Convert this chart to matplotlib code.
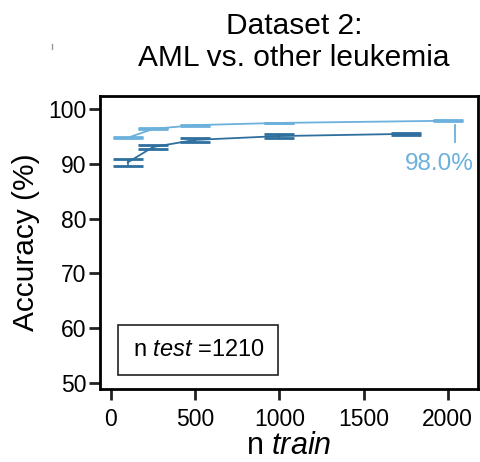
import matplotlib.pyplot as plt
from matplotlib.lines import Line2D

plt.rcParams['font.family'] = ['Liberation Sans', 'DejaVu Sans']
plt.rcParams['mathtext.fontset'] = 'custom'
plt.rcParams['mathtext.rm'] = 'Liberation Sans'
plt.rcParams['mathtext.it'] = 'Liberation Sans:italic'

# light series (upper curve)
light_x = [100, 250, 500, 1000, 2000]
light_y = [94.8, 96.4, 97.1, 97.5, 97.9]
light_err = [0.1, 0.1, 0.1, 0.05, 0.05]

# dark series (lower curve)
dark_x = [100, 250, 500, 1000, 1750]
dark_y = [90.3, 93.1, 94.4, 95.1, 95.5]
dark_err = [0.6, 0.4, 0.3, 0.3, 0.2]

light_col = '#6cb0dc'
dark_col = '#2f6f9e'

fig = plt.figure(figsize=(4.81, 4.62), dpi=100)
ax = fig.add_axes([0.208, 0.158, 0.786, 0.634])

ax.errorbar(light_x, light_y, yerr=light_err, color=light_col, lw=1.3,
            capsize=11, capthick=2, elinewidth=1.2)
ax.errorbar(dark_x, dark_y, yerr=dark_err, color=dark_col, lw=1.3,
            capsize=11, capthick=2, elinewidth=1.2)

# final value label
ax.plot([2040, 2040], [97.1, 94.0], color=light_col, lw=1.3)
ax.text(1950, 90.0, '98.0%', color=light_col, fontsize=17.5, ha='center', va='center')

ax.set_xlim(-65, 2180)
ax.set_ylim(48.9, 102.4)
ax.set_xticks([0, 500, 1000, 1500, 2000])
ax.set_yticks([50, 60, 70, 80, 90, 100])
for s in ax.spines.values():
    s.set_linewidth(2)
ax.tick_params(labelsize=16.5, width=2, length=8, color='#222222', pad=2)
ax.tick_params(axis='x', pad=6)

ax.set_ylabel('Accuracy (%)', fontsize=21.5, labelpad=6)
ax.set_xlabel('n $\\mathit{train}$', fontsize=22, labelpad=0)
ax.set_title('Dataset 2:\nAML vs. other leukemia', fontsize=21.5, pad=22, x=0.513,
             linespacing=1.15)

ax.text(0.086, 0.134, 'n $\\mathit{test}$ =1210', transform=ax.transAxes, fontsize=17,
        va='center', ha='left',
        bbox=dict(boxstyle='square,pad=0.6', fc='white', ec='#222222', lw=1.2))

fig.add_artist(Line2D([0.108, 0.108], [0.893, 0.905], color='#999999', lw=1))

fig.savefig('out.png', dpi=100)
